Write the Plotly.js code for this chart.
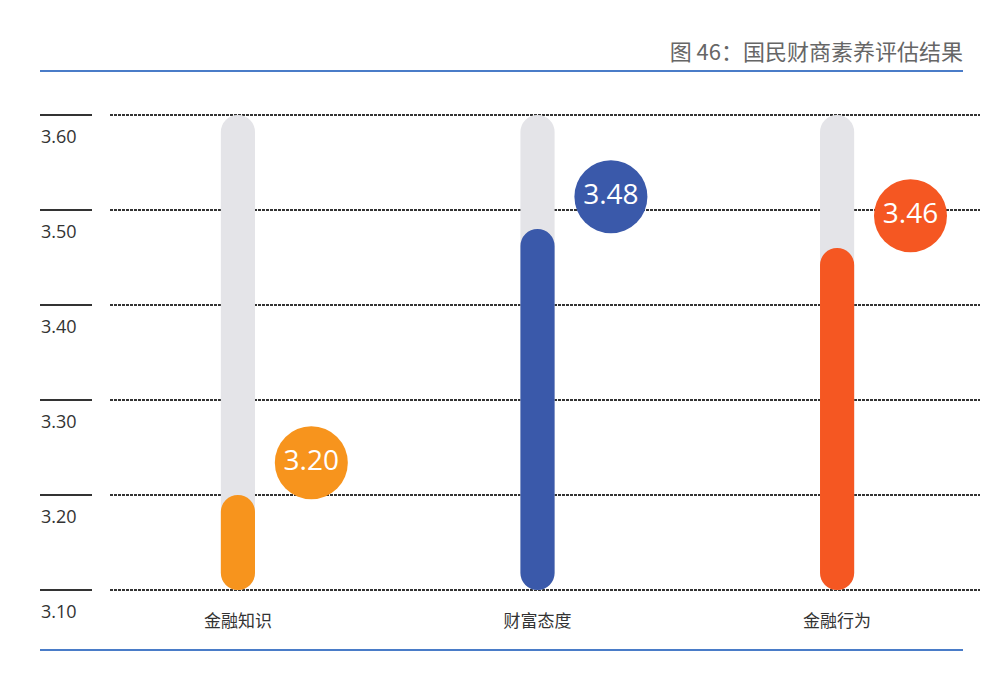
<!DOCTYPE html>
<html>
<head>
<meta charset="utf-8">
<script src="https://cdn.plot.ly/plotly-3.0.1.min.js"></script>
<style>html,body{margin:0;padding:0;background:#fff;}#chart{width:996px;height:676px;}</style>
</head>
<body>
<div id="chart"></div>
<script>
// ---- data ----
const categories = ["金融知识", "财富态度", "金融行为"];
const values = [3.20, 3.48, 3.46];
const labels = ["3.20", "3.48", "3.46"];
const barColors = ["#F7941D", "#3A59AA", "#F55722"];
const axisMin = 3.10;
const axisMax = 3.60;
const yTickVals = [3.10, 3.20, 3.30, 3.40, 3.50, 3.60];
const yTickText = ["3.10", "3.20", "3.30", "3.40", "3.50", "3.60"];
const titleText = "图 46：国民财商素养评估结果";

// ---- layout helpers (pixel geometry) ----
const W = 996, H = 676;
const mL = 110, mR = 16, mT = 96, mB = 67;
const plotW = W - mL - mR, plotH = H - mT - mB;
const px2xp = p => (p - mL) / plotW;
const py2yp = p => (H - mB - p) / plotH;

const xIdx = categories.map((c, i) => i);
const barW = 0.114;
const traces = [];

function bars(x, lo, hi, color) {
  traces.push({type: "bar", x: x, width: barW, base: lo, y: x.map((_, i) => hi[i] - lo[i]),
    marker: {color: color, cornerradius: "50%", line: {width: 0}}, hoverinfo: "skip", showlegend: false});
}
// grey background tracks
bars(xIdx, xIdx.map(() => axisMin), xIdx.map(() => axisMax), "#E4E4E8");
// coloured value bars
bars(xIdx, xIdx.map(() => axisMin), values, barColors);

// value bubbles
traces.push({
  type: "scatter", mode: "markers+text",
  x: xIdx.map(i => i + 0.245),
  y: values.map(v => v + 0.034),
  marker: {size: 73, color: barColors, line: {width: 0}},
  text: labels, textposition: "middle center",
  textfont: {family: "Open Sans, Noto Sans, sans-serif", size: 28, color: "#FFFFFF"},
  hoverinfo: "skip", showlegend: false, cliponaxis: false
});

const shapes = [];
const annotations = [];
yTickVals.forEach((v, i) => {
  shapes.push({type: "line", xref: "paper", yref: "y", x0: px2xp(40), x1: px2xp(92), y0: v, y1: v, line: {color: "#333333", width: 2}});
  annotations.push({xref: "paper", yref: "y", x: px2xp(39), y: v, xanchor: "left", yanchor: "middle", yshift: -21, text: yTickText[i], showarrow: false, font: {family: "Open Sans, Noto Sans, sans-serif", size: 18, color: "#333333"}});
});
[71, 650].forEach(p => {
  shapes.push({type: "line", xref: "paper", yref: "paper", x0: px2xp(40), x1: px2xp(963), y0: py2yp(p), y1: py2yp(p), line: {color: "#4A7CC8", width: 2}});
});

const layout = {
  width: W, height: H,
  margin: {l: mL, r: mR, t: mT, b: mB},
  paper_bgcolor: "#FFFFFF", plot_bgcolor: "#FFFFFF",
  barmode: "overlay",
  title: {text: titleText, x: 963 / W, xanchor: "right", xref: "container", y: 1 - 52 / H, yanchor: "middle", yref: "container", font: {family: "Noto Sans CJK SC, sans-serif", size: 22, color: "#666666"}},
  xaxis: {range: [-0.427, 2.477], tickvals: xIdx, ticktext: categories, showgrid: false, zeroline: false, showline: false, ticks: "", tickfont: {family: "Noto Sans CJK SC, sans-serif", size: 17, color: "#333333"}, fixedrange: true},
  yaxis: {range: [3.08, 3.62], tickvals: yTickVals, showticklabels: false, showgrid: true, gridcolor: "#333333", gridwidth: 1.5, griddash: "3px,1px", zeroline: false, showline: false, ticks: "", fixedrange: true},
  shapes: shapes,
  annotations: annotations,
  showlegend: false
};

Plotly.newPlot("chart", traces, layout, {displayModeBar: false, staticPlot: true});
</script>
</body>
</html>
